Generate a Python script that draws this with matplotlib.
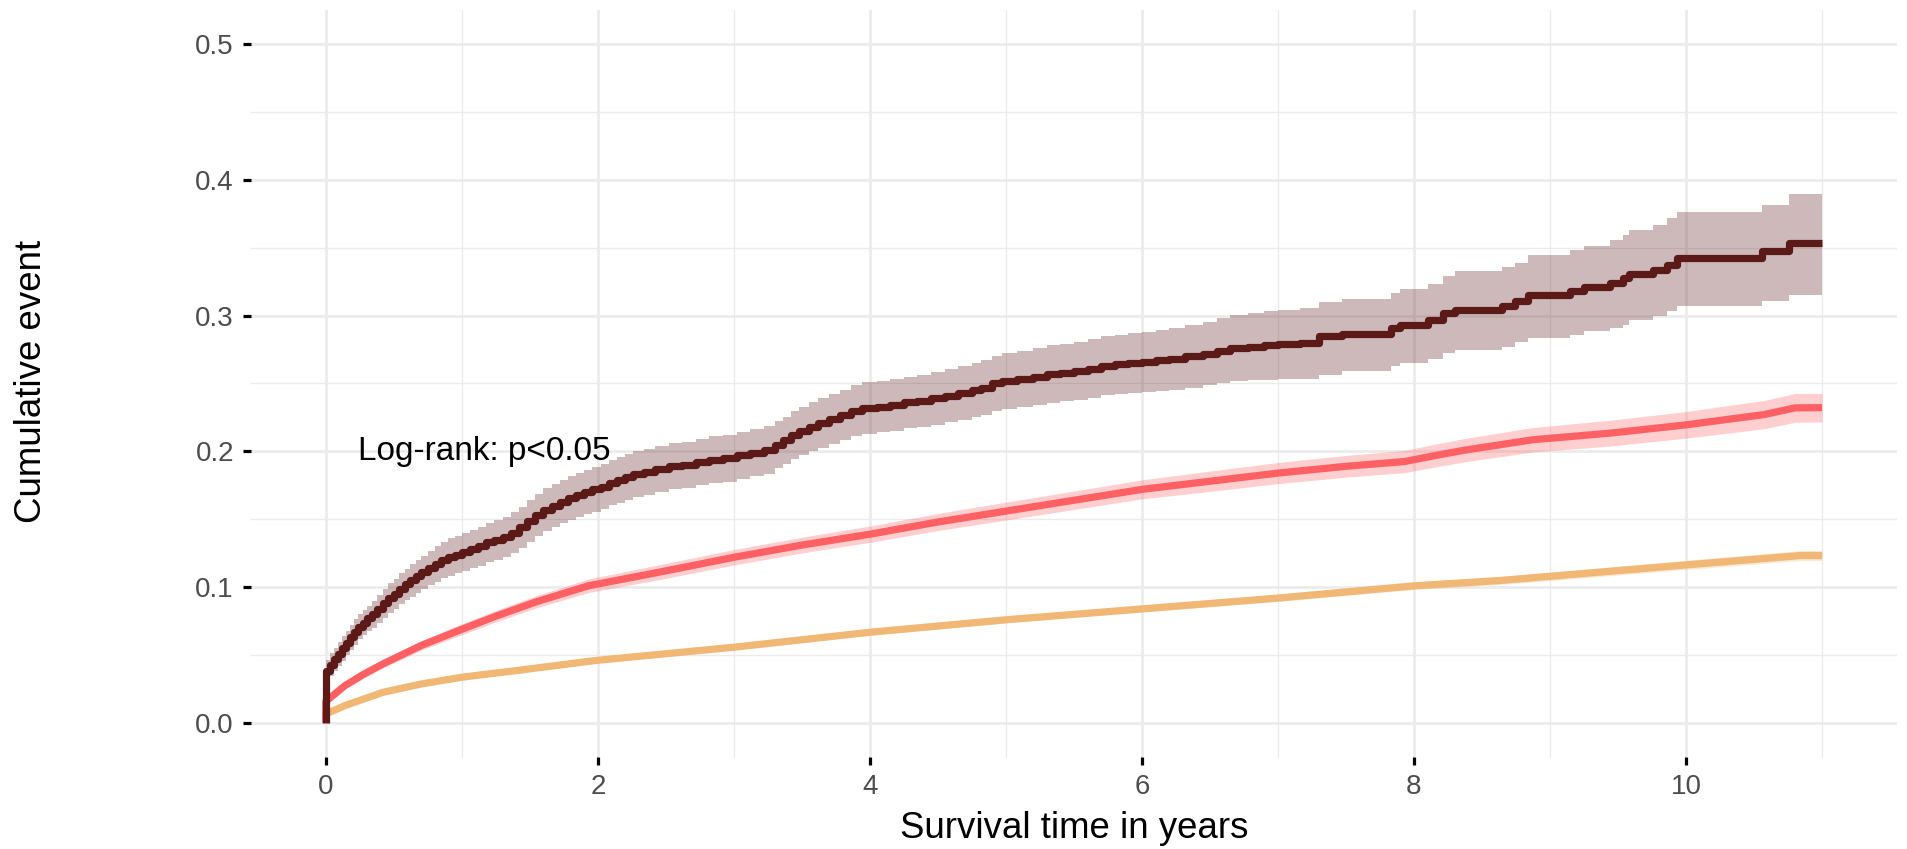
import matplotlib
matplotlib.use('Agg')
import matplotlib.pyplot as plt

# high group (dark), stepwise estimate with confidence band
high_t = [0, 0, 0.03, 0.06, 0.09, 0.12, 0.15, 0.18, 0.21, 0.24, 0.27, 0.30, 0.34, 0.38, 0.42, 0.46,
          0.50, 0.54, 0.58, 0.62, 0.66, 0.70, 0.75, 0.80, 0.85, 0.90, 0.95, 1.00, 1.06, 1.12, 1.18,
          1.24, 1.30, 1.36, 1.42, 1.48, 1.54, 1.60, 1.66, 1.72, 1.78, 1.84, 1.90, 1.96, 2.02, 2.08,
          2.14, 2.20, 2.26, 2.34, 2.42, 2.52, 2.62, 2.72, 2.82, 2.92, 3.02, 3.12, 3.22, 3.30, 3.36,
          3.42, 3.48, 3.55, 3.62, 3.70, 3.78, 3.86, 3.94, 4.05, 4.15, 4.25, 4.35, 4.45, 4.55, 4.65,
          4.75, 4.82, 4.90, 4.97, 5.08, 5.20, 5.30, 5.40, 5.50, 5.60, 5.70, 5.80, 5.90, 6.00, 6.10,
          6.20, 6.32, 6.45, 6.55, 6.65, 6.78, 6.90, 7.00, 7.16, 7.30, 7.47, 7.83, 7.90, 8.10, 8.21,
          8.30, 8.65, 8.74, 8.84, 9.15, 9.25, 9.44, 9.54, 9.58, 9.76, 9.86, 9.93, 10.56, 10.76, 11.00]
high_est = [0, 0.038, 0.043, 0.047, 0.051, 0.055, 0.059, 0.063, 0.067, 0.071, 0.074, 0.077, 0.080, 0.084, 0.088, 0.092,
            0.095, 0.099, 0.102, 0.105, 0.108, 0.111, 0.114, 0.117, 0.120, 0.122, 0.124, 0.126, 0.128, 0.130, 0.133,
            0.135, 0.137, 0.140, 0.144, 0.149, 0.153, 0.157, 0.160, 0.163, 0.166, 0.168, 0.170, 0.172, 0.174, 0.177,
            0.179, 0.181, 0.183, 0.185, 0.187, 0.189, 0.190, 0.192, 0.194, 0.195, 0.197, 0.199, 0.201, 0.205, 0.208,
            0.212, 0.215, 0.218, 0.221, 0.224, 0.227, 0.230, 0.232, 0.233, 0.234, 0.236, 0.237, 0.239, 0.241, 0.243,
            0.245, 0.247, 0.250, 0.252, 0.253, 0.255, 0.257, 0.258, 0.259, 0.261, 0.263, 0.264, 0.265, 0.266, 0.267,
            0.268, 0.270, 0.272, 0.274, 0.276, 0.277, 0.278, 0.279, 0.280, 0.2846, 0.2863, 0.2907, 0.2932, 0.2968, 0.3018,
            0.3042, 0.3067, 0.3104, 0.3148, 0.3177, 0.3209, 0.3239, 0.3275, 0.3307, 0.3337, 0.3374, 0.3423, 0.3472, 0.3533, 0.3533]
high_lo = [0, 0.0295, 0.0345, 0.0385, 0.042, 0.046, 0.050, 0.054, 0.0575, 0.0615, 0.0645, 0.0675, 0.070, 0.0738, 0.0775, 0.081,
           0.084, 0.0878, 0.0905, 0.093, 0.096, 0.0988, 0.1015, 0.104, 0.1065, 0.108, 0.1102, 0.112, 0.1138, 0.1157, 0.1185,
           0.1203, 0.1222, 0.125, 0.1288, 0.1335, 0.1374, 0.1412, 0.1441, 0.147, 0.1498, 0.1517, 0.1536, 0.1555, 0.1575, 0.1604,
           0.1623, 0.1642, 0.1661, 0.1681, 0.1701, 0.172, 0.173, 0.1749, 0.1769, 0.1778, 0.1798, 0.1817, 0.1836, 0.1875, 0.1904,
           0.1943, 0.1972, 0.200, 0.2028, 0.2056, 0.2085, 0.2113, 0.2131, 0.214, 0.215, 0.217, 0.2178, 0.2196, 0.2214, 0.2232,
           0.225, 0.2268, 0.2296, 0.2315, 0.2323, 0.2341, 0.2359, 0.2368, 0.2376, 0.2394, 0.2412, 0.242, 0.2428, 0.2438, 0.2446,
           0.2454, 0.247, 0.2485, 0.250, 0.2515, 0.2522, 0.2528, 0.2532, 0.2531, 0.2563, 0.2588, 0.2625, 0.2649, 0.2679, 0.2723,
           0.2747, 0.2772, 0.2802, 0.2834, 0.2858, 0.2883, 0.2907, 0.2932, 0.2964, 0.2993, 0.3030, 0.3072, 0.3104, 0.3148, 0.3148]
high_hi = [0, 0.0465, 0.0515, 0.0555, 0.060, 0.064, 0.068, 0.072, 0.0765, 0.0805, 0.0835, 0.0865, 0.090, 0.0942, 0.0985, 0.103,
           0.106, 0.1102, 0.1135, 0.117, 0.120, 0.1232, 0.1265, 0.130, 0.1335, 0.136, 0.1378, 0.140, 0.1422, 0.1443, 0.1475,
           0.1497, 0.1518, 0.155, 0.1592, 0.1645, 0.1686, 0.1728, 0.1759, 0.179, 0.1822, 0.1843, 0.1864, 0.1885, 0.1905, 0.1936,
           0.1957, 0.1978, 0.1999, 0.2019, 0.2039, 0.206, 0.207, 0.2091, 0.2111, 0.2122, 0.2142, 0.2163, 0.2184, 0.2225, 0.2256,
           0.2297, 0.2328, 0.236, 0.2392, 0.2424, 0.2455, 0.2487, 0.2509, 0.252, 0.253, 0.255, 0.2562, 0.2584, 0.2606, 0.2628,
           0.265, 0.2672, 0.2704, 0.2725, 0.2737, 0.2759, 0.2781, 0.2792, 0.2804, 0.2826, 0.2848, 0.286, 0.2872, 0.2882, 0.2894,
           0.2906, 0.293, 0.2955, 0.298, 0.3005, 0.3018, 0.3032, 0.3044, 0.3054, 0.3096, 0.3120, 0.3165, 0.3194, 0.3230, 0.3292,
           0.3325, 0.3357, 0.3386, 0.3447, 0.3480, 0.3514, 0.3558, 0.3595, 0.3632, 0.3668, 0.3718, 0.3759, 0.3816, 0.3897, 0.3897]

# middle group (red)
mid_t = [0, 0, 0.02, 0.14, 0.28, 0.42, 0.70, 1.00, 1.26, 1.54, 1.93, 2.50, 3.00, 3.50, 4.00, 4.50,
         5.00, 5.50, 6.00, 6.50, 7.00, 7.50, 7.93, 8.16, 8.38, 8.87, 9.44, 10.00, 10.37, 10.57, 10.80, 11.00]
mid_est = [0, 0.016, 0.0175, 0.0275, 0.036, 0.0435, 0.057, 0.069, 0.079, 0.089, 0.101, 0.112, 0.122, 0.131, 0.139, 0.148,
           0.156, 0.164, 0.172, 0.178, 0.184, 0.189, 0.1925, 0.197, 0.201, 0.2085, 0.2134, 0.2195, 0.2244, 0.227, 0.232, 0.2322]
mid_lo = [0, 0.014, 0.0152, 0.0248, 0.0332, 0.0405, 0.0536, 0.065, 0.0748, 0.0845, 0.096, 0.1065, 0.1163, 0.1252, 0.133, 0.1417,
          0.1494, 0.1572, 0.165, 0.1705, 0.1762, 0.181, 0.1843, 0.1886, 0.1924, 0.1995, 0.2039, 0.2097, 0.2142, 0.2166, 0.2214, 0.2217]
mid_hi = [0, 0.018, 0.0198, 0.0302, 0.0388, 0.0465, 0.0604, 0.073, 0.0832, 0.0935, 0.106, 0.1175, 0.1277, 0.1368, 0.145, 0.1543,
          0.1626, 0.1708, 0.179, 0.1855, 0.1918, 0.197, 0.2007, 0.2054, 0.2096, 0.2175, 0.2229, 0.2293, 0.2346, 0.2374, 0.2426, 0.2427]

# low group (orange)
low_t = [0, 0, 0.14, 0.28, 0.42, 0.70, 1.00, 1.40, 1.98, 3.00, 4.00, 5.00, 6.00, 7.00, 8.00, 8.63,
         9.00, 10.00, 10.84, 11.00]
low_est = [0, 0.0066, 0.0128, 0.0177, 0.0226, 0.0287, 0.0337, 0.0386, 0.046, 0.0558, 0.0668, 0.076, 0.084, 0.092, 0.101, 0.1049,
           0.108, 0.1164, 0.1233, 0.1233]
low_lo = [0, 0.0058, 0.0119, 0.0167, 0.0215, 0.0275, 0.0324, 0.0372, 0.0445, 0.0541, 0.0649, 0.0739, 0.0817, 0.0895, 0.0983, 0.102,
          0.1049, 0.113, 0.1196, 0.1196]
low_hi = [0, 0.0074, 0.0137, 0.0187, 0.0237, 0.0299, 0.035, 0.04, 0.0475, 0.0575, 0.0687, 0.0781, 0.0863, 0.0945, 0.1037, 0.1078,
          0.1111, 0.1198, 0.127, 0.127]

x_ticks = [0, 2, 4, 6, 8, 10]
y_ticks = [0.0, 0.1, 0.2, 0.3, 0.4, 0.5]

plt.rcParams['font.family'] = ['Liberation Sans', 'DejaVu Sans']

fig = plt.figure(figsize=(19.07, 8.49), dpi=100)
ax = fig.add_axes([0.1316, 0.1084, 0.8631, 0.8799])

c_low, c_mid, c_high = '#f0b775', '#ff6064', '#5b1a18'
lw = 5.2

ax.fill_between(low_t, low_lo, low_hi, color=c_low, alpha=0.3, lw=0)
ax.plot(low_t, low_est, color=c_low, lw=lw, solid_capstyle='butt')

ax.fill_between(mid_t, mid_lo, mid_hi, color=c_mid, alpha=0.3, lw=0)
ax.plot(mid_t, mid_est, color=c_mid, lw=lw, solid_capstyle='butt')

ax.fill_between(high_t, high_lo, high_hi, step='post', color=c_high, alpha=0.3, lw=0)
ax.plot(high_t, high_est, drawstyle='steps-post', color=c_high, lw=lw, solid_capstyle='butt')

ax.text(1.165, 0.2, 'Log-rank: p<0.05', ha='center', va='center', fontsize=24, color='black')

ax.set_xlim(-0.55, 11.55)
ax.set_ylim(-0.025, 0.525)
ax.set_xticks(x_ticks)
ax.set_yticks(y_ticks)
ax.set_xticks([1, 3, 5, 7, 9, 11], minor=True)
ax.set_yticks([0.05, 0.15, 0.25, 0.35, 0.45], minor=True)
ax.set_yticklabels(['0.0', '0.1', '0.2', '0.3', '0.4', '0.5'])
ax.grid(True, which='major', color='#ebebeb', lw=1.9)
ax.grid(True, which='minor', color='#ebebeb', lw=0.95)
ax.set_axisbelow(True)
ax.tick_params(which='major', length=5.8, width=2.3, color='black', labelsize=20, labelcolor='#4d4d4d', pad=6.5)
ax.tick_params(which='minor', length=0)
for s in ax.spines.values():
    s.set_visible(False)

fig.text(0.5633, 0.013, 'Survival time in years', ha='center', va='baseline', fontsize=26.4)
fig.text(0.0165, 0.551, 'Cumulative event', ha='center', va='center', rotation=90, fontsize=26.4)

fig.savefig('out.png', dpi=100, facecolor='white')
